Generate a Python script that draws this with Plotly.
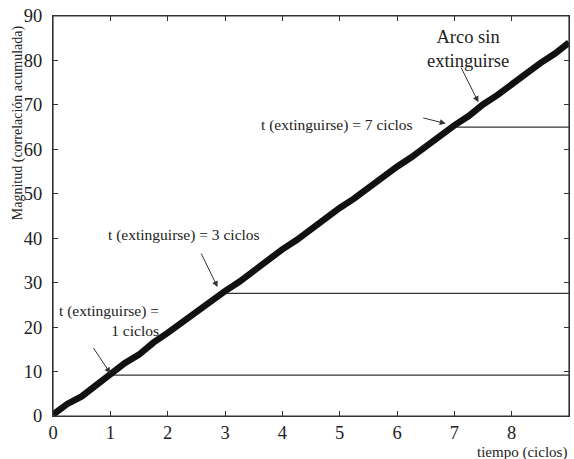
import plotly.graph_objects as go

# main accumulated correlation curve
t_cycles = [0.0, 0.25, 0.5, 0.75, 1.0, 1.25, 1.5, 1.75, 2.0, 2.25, 2.5, 2.75, 3.0,
            3.25, 3.5, 3.75, 4.0, 4.25, 4.5, 4.75, 5.0, 5.25, 5.5, 5.75, 6.0,
            6.25, 6.5, 6.75, 7.0, 7.25, 7.5, 7.75, 8.0, 8.25, 8.5, 8.75, 9.0]
magnitude = [0.3, 2.7, 4.4, 7.0, 9.5, 11.9, 13.8, 16.5, 18.7, 21.1, 23.3, 25.7, 28.1,
             30.2, 32.7, 35.0, 37.5, 39.6, 42.1, 44.2, 46.8, 48.9, 51.4, 53.6, 56.1,
             58.2, 60.7, 62.9, 65.4, 67.5, 70.1, 72.2, 74.7, 76.9, 79.4, 81.5, 84.0]

# plateaus after the arc extinguishes
ext_cycles = [1, 3, 7]
ext_levels = [9.2, 27.6, 65.0]
x_end = 9.0

x_ticks = [0, 1, 2, 3, 4, 5, 6, 7, 8]
y_ticks = [0, 10, 20, 30, 40, 50, 60, 70, 80, 90]

FONT = "Liberation Serif"
AX = "#333333"
TXT = "#222222"

fig = go.Figure()
for c, lv in zip(ext_cycles, ext_levels):
    fig.add_trace(go.Scatter(x=[c, x_end], y=[lv, lv], mode="lines",
                             line=dict(color=AX, width=1.2),
                             showlegend=False, hoverinfo="skip"))
fig.add_trace(go.Scatter(x=t_cycles, y=magnitude, mode="lines",
                         line=dict(color="#111111", width=6.5),
                         showlegend=False))

ann_font = dict(family=FONT, size=15.5, color=TXT)
arrow = dict(showarrow=True, arrowhead=2, arrowsize=1.2, arrowwidth=1,
             arrowcolor=AX)
annotations = [
    dict(x=1.0, y=9.6, ax=-18, ay=-27, text="", **arrow),
    dict(x=2.87, y=29.0, ax=-17, ay=-35, text="", **arrow),
    dict(x=6.85, y=65.8, ax=-24, ay=-6, text="", **arrow),
    dict(x=7.42, y=70.6, ax=-18, ay=-36, text="", **arrow),
    dict(x=0.97, y=21.6, xref="x", yref="y", showarrow=False,
         text="t (extinguirse) =<br>1 ciclos", align="right", font=ann_font),
    dict(x=2.285, y=40.7, xref="x", yref="y", showarrow=False,
         text="t (extinguirse) = 3 ciclos", font=ann_font),
    dict(x=4.95, y=65.4, xref="x", yref="y", showarrow=False,
         text="t (extinguirse) = 7 ciclos", font=ann_font),
    dict(x=7.24, y=82.6, xref="x", yref="y", showarrow=False,
         text="Arco sin<br>extinguirse", align="center",
         font=dict(family=FONT, size=18.5, color=TXT)),
    dict(x=1.0, y=-0.09, xref="paper", yref="paper", xanchor="right",
         yanchor="middle", showarrow=False, text="tiempo (ciclos)",
         font=dict(family=FONT, size=15, color=TXT)),
    dict(x=-0.069, y=0.733, xref="paper", yref="paper", textangle=-90,
         xanchor="center", yanchor="middle",
         showarrow=False, text="Magnitud (correlación acumulada)",
         font=dict(family=FONT, size=14, color=TXT)),
]

fig.update_layout(
    width=574, height=459,
    margin=dict(l=53, r=5, t=16, b=43),
    paper_bgcolor="white", plot_bgcolor="white",
    font=dict(family=FONT, size=18.5, color=TXT),
    annotations=annotations,
    shapes=[dict(type="rect", xref="paper", yref="paper", x0=0, y0=0, x1=1, y1=1,
                 line=dict(color=AX, width=1.2), layer="above")],
    xaxis=dict(range=[0, 9.0], tickvals=x_ticks, ticks="inside", ticklen=5,
               tickcolor=AX, showline=True, linecolor=AX,
               linewidth=1.2, mirror="ticks", showgrid=False, zeroline=False,
               automargin=False),
    yaxis=dict(range=[0, 90], tickvals=y_ticks, ticks="inside", ticklen=5,
               tickcolor=AX, showline=True, linecolor=AX,
               linewidth=1.2, mirror="ticks", showgrid=False, zeroline=False,
               ticklabelstandoff=6, automargin=False),
)

fig.write_html("out.html", config={"displayModeBar": False},
               post_script="document.body.style.margin='0';"
                           "document.body.style.overflow='hidden';")
